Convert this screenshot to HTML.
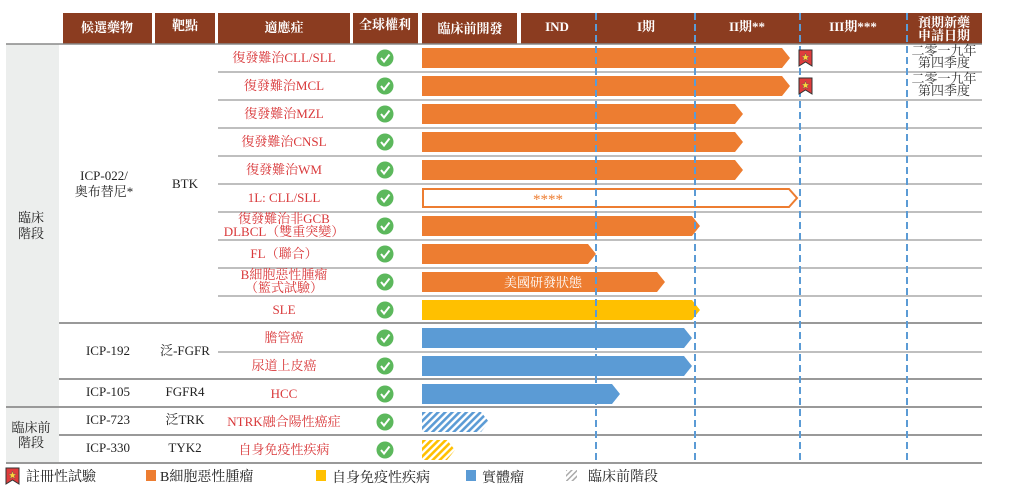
<!DOCTYPE html>
<html><head><meta charset="utf-8"><style>
body{margin:0;background:#fff}
svg{display:block}
text{font-family:"Liberation Serif","Noto Serif CJK SC","Noto Sans CJK TC",serif}
.h{fill:#fff;font-weight:bold;font-size:13px;text-anchor:middle}
.r{fill:#d9383a;font-size:13px;text-anchor:middle}
.k{fill:#222;font-size:13px;text-anchor:middle}
.lg{fill:#222;font-size:14px}
</style></head><body>
<svg width="1009" height="497" viewBox="0 0 1009 497" xmlns="http://www.w3.org/2000/svg">
<defs>
<pattern id="hb" width="5" height="5" patternUnits="userSpaceOnUse" patternTransform="rotate(45)"><rect width="5" height="5" fill="#fff"/><rect width="2.6" height="5" fill="#5b9bd5"/></pattern>
<pattern id="hy" width="5" height="5" patternUnits="userSpaceOnUse" patternTransform="rotate(45)"><rect width="5" height="5" fill="#fff"/><rect width="2.6" height="5" fill="#ffc000"/></pattern>
<pattern id="hg" width="4" height="4" patternUnits="userSpaceOnUse" patternTransform="rotate(45)"><rect width="4" height="4" fill="#fff"/><rect width="1.5" height="4" fill="#aaa"/></pattern>
<g id="chk"><circle r="8.5" fill="#5cb85c"/><path d="M-4 0 L-1 3.5 L4.5 -3.5" stroke="#fff" stroke-width="2" fill="none"/></g>
<g id="star"><path d="M0 0 H13 V16 L6.5 12 L0 16 Z" fill="#e03c3c" stroke="#333" stroke-width="1"/><path d="M6.5 3 L7.6 6 L10.5 6 L8.2 7.8 L9 10.8 L6.5 9 L4 10.8 L4.8 7.8 L2.5 6 L5.4 6 Z" fill="#ffd33a" stroke="#555" stroke-width="0.4"/></g>
</defs>
<g fill="#8b3c20">
<rect x="63" y="13" width="89" height="31"/><rect x="155" y="13" width="60" height="31"/><rect x="218" y="13" width="132" height="31"/><rect x="353" y="13" width="65" height="31"/><rect x="422" y="13" width="95" height="31"/><rect x="521" y="13" width="461" height="31"/>
</g>
<text class="h" x="107" y="32">候選藥物</text><text class="h" x="185" y="30">靶點</text><text class="h" x="284" y="32">適應症</text><text class="h" x="385" y="29">全球權利</text><text class="h" x="470" y="33">臨床前開發</text>
<text class="h" x="557" y="31">IND</text><text class="h" x="646" y="31">I期</text><text class="h" x="747" y="31">II期**</text><text class="h" x="853" y="31">III期***</text>
<text class="h" x="944" y="27">預期新藥</text><text class="h" x="944" y="40">申請日期</text>
<rect x="6" y="44" width="53" height="420" fill="#eceeed"/>
<line x1="6" y1="44" x2="982" y2="44" stroke="#888" stroke-width="1.5"/>
<text class="k" x="31" y="222">臨床</text><text class="k" x="31" y="238">階段</text>
<text class="k" x="31" y="432">臨床前</text><text class="k" x="31" y="447">階段</text>
<g stroke="#aaa" stroke-width="1.5">
<line x1="218" y1="72" x2="982" y2="72"/><line x1="218" y1="100" x2="982" y2="100"/><line x1="218" y1="128" x2="982" y2="128"/><line x1="218" y1="156" x2="982" y2="156"/><line x1="218" y1="184" x2="982" y2="184"/><line x1="218" y1="212" x2="982" y2="212"/><line x1="218" y1="240" x2="982" y2="240"/><line x1="218" y1="268" x2="982" y2="268"/><line x1="218" y1="296" x2="982" y2="296"/>
<line x1="218" y1="352" x2="982" y2="352"/>
</g>
<g stroke="#999" stroke-width="2">
<line x1="59" y1="323" x2="982" y2="323"/><line x1="59" y1="379" x2="982" y2="379"/><line x1="6" y1="407" x2="982" y2="407"/><line x1="59" y1="435" x2="982" y2="435"/><line x1="6" y1="463" x2="982" y2="463"/>
</g>
<text class="k" x="104" y="180">ICP-022/</text><text class="k" x="104" y="196">奥布替尼*</text><text class="k" x="185" y="188">BTK</text>
<text class="k" x="108" y="355">ICP-192</text><text class="k" x="185" y="355">泛-FGFR</text>
<text class="k" x="108" y="396">ICP-105</text><text class="k" x="185" y="396">FGFR4</text>
<text class="k" x="108" y="424">ICP-723</text><text class="k" x="185" y="424">泛TRK</text>
<text class="k" x="108" y="452">ICP-330</text><text class="k" x="185" y="452">TYK2</text>
<text class="r" x="284" y="62">復發難治CLL/SLL</text>
<text class="r" x="284" y="90">復發難治MCL</text>
<text class="r" x="284" y="118">復發難治MZL</text>
<text class="r" x="284" y="146">復發難治CNSL</text>
<text class="r" x="284" y="174">復發難治WM</text>
<text class="r" x="284" y="202">1L: CLL/SLL</text>
<text class="r" x="284" y="223">復發難治非GCB</text><text class="r" x="284" y="236">DLBCL（雙重突變）</text>
<text class="r" x="284" y="258">FL（聯合）</text>
<text class="r" x="284" y="279">B細胞惡性腫瘤</text><text class="r" x="284" y="292">（籃式試驗）</text>
<text class="r" x="284" y="314">SLE</text>
<text class="r" x="284" y="342">膽管癌</text>
<text class="r" x="284" y="370">尿道上皮癌</text>
<text class="r" x="284" y="398">HCC</text>
<text class="r" x="284" y="426">NTRK融合陽性癌症</text>
<text class="r" x="284" y="454">自身免疫性疾病</text>
<use href="#chk" x="385" y="58"/><use href="#chk" x="385" y="86"/><use href="#chk" x="385" y="114"/><use href="#chk" x="385" y="142"/><use href="#chk" x="385" y="170"/><use href="#chk" x="385" y="198"/><use href="#chk" x="385" y="226"/><use href="#chk" x="385" y="254"/><use href="#chk" x="385" y="282"/><use href="#chk" x="385" y="310"/><use href="#chk" x="385" y="338"/><use href="#chk" x="385" y="366"/><use href="#chk" x="385" y="394"/><use href="#chk" x="385" y="422"/><use href="#chk" x="385" y="450"/>
<g fill="#ed7d31">
<polygon points="422,48 782,48 790,58 782,68 422,68"/>
<polygon points="422,76 782,76 790,86 782,96 422,96"/>
<polygon points="422,104 735,104 743,114 735,124 422,124"/>
<polygon points="422,132 735,132 743,142 735,152 422,152"/>
<polygon points="422,160 735,160 743,170 735,180 422,180"/>
<polygon points="422,216 692,216 700,226 692,236 422,236"/>
<polygon points="422,244 588,244 596,254 588,264 422,264"/>
<polygon points="422,272 657,272 665,282 657,292 422,292"/>
</g>
<polygon points="423,189 789,189 797,198 789,207 423,207" fill="#fff" stroke="#ed7d31" stroke-width="2"/>
<text x="548" y="204" fill="#ed7d31" font-size="15" text-anchor="middle">****</text>
<text x="543" y="287" fill="#fff" font-size="13" text-anchor="middle">美國研發狀態</text>
<polygon points="422,300 692,300 700,310 692,320 422,320" fill="#ffc000"/>
<g fill="#5b9bd5">
<polygon points="422,328 684,328 692,338 684,348 422,348"/>
<polygon points="422,356 684,356 692,366 684,376 422,376"/>
<polygon points="422,384 612,384 620,394 612,404 422,404"/>
</g>
<polygon points="422,412 481,412 489,422 481,432 422,432" fill="url(#hb)"/>
<polygon points="422,440 447,440 455,450 447,460 422,460" fill="url(#hy)"/>
<g stroke="#5b9bd5" stroke-width="2" stroke-dasharray="7,4">
<line x1="596" y1="13" x2="596" y2="463"/><line x1="695" y1="13" x2="695" y2="463"/><line x1="800" y1="13" x2="800" y2="463"/><line x1="907" y1="13" x2="907" y2="463"/>
</g>
<use href="#star" x="799" y="50"/><use href="#star" x="799" y="78"/>
<text x="944" y="55" font-size="13" fill="#333" text-anchor="middle">二零一九年</text><text x="944" y="67" font-size="13" fill="#333" text-anchor="middle">第四季度</text>
<text x="944" y="83" font-size="13" fill="#333" text-anchor="middle">二零一九年</text><text x="944" y="95" font-size="13" fill="#333" text-anchor="middle">第四季度</text>
<use href="#star" x="6" y="468"/>
<text class="lg" x="26" y="481">註冊性試驗</text>
<rect x="146" y="470" width="10" height="11" fill="#ed7d31"/><text class="lg" x="160" y="481">B細胞惡性腫瘤</text>
<rect x="316" y="470" width="10" height="11" fill="#ffc000"/><text class="lg" x="332" y="482">自身免疫性疾病</text>
<rect x="466" y="470" width="10" height="11" fill="#5b9bd5"/><text class="lg" x="482" y="482">實體瘤</text>
<rect x="566" y="470" width="11" height="11" fill="url(#hg)"/><text class="lg" x="588" y="481">臨床前階段</text>
</svg>
</body></html>
